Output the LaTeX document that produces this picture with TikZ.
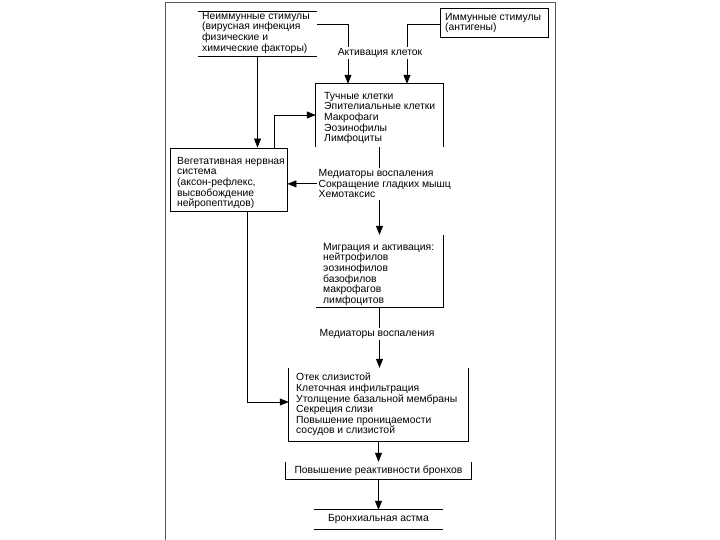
\documentclass[tikz,border=0pt]{standalone}
\usepackage{fontspec}
\setmainfont{Liberation Sans}
\usepackage{tikz}
\usetikzlibrary{arrows.meta}
\tikzset{
  bx/.style={rectangle, inner sep=0pt},                            % box area
  fb/.style={bx, draw=black, line width=0.8pt},                    % full box
  ln/.style={draw=black, line width=0.8pt},                        % plain line
  ar/.style={ln, -{Triangle[length=9bp,width=7bp]}},               % arrow
  fr/.style={draw=black!65, line width=0.8pt},                     % page frame
  tx/.style={font=\fontsize{10.4}{10.6}\selectfont, align=left, inner sep=0pt, anchor=north west},
  lb/.style={font=\fontsize{10.4}{10.6}\selectfont, align=left, fill=white, inner sep=1.5pt},
}
\begin{document}
\begin{tikzpicture}[x=1bp, y=-1bp]
  \useasboundingbox (0,0) rectangle (720,540);
  \draw[fr] (165,540) -- (165,2) -- (555,2) -- (555,540);
  % boxes
  \node[bx, minimum width=119bp, minimum height=44bp] (nonimm) at (257.5,34)    {};
  \node[fb, minimum width=108bp, minimum height=29bp] (imm)    at (494,22.5)    {};
  \node[bx, minimum width=127bp, minimum height=63bp] (cells)  at (379.5,115.5) {};
  \node[fb, minimum width=117bp, minimum height=63bp] (veg)    at (228.5,179.5) {};
  \node[bx, minimum width=127bp, minimum height=72bp] (migr)   at (379.5,271)   {};
  \node[bx, minimum width=179bp, minimum height=73bp] (effect) at (378.5,404.5) {};
  \node[bx, minimum width=185bp, minimum height=17bp] (react)  at (378.5,470.5) {};
  \node[bx, minimum width=129bp, minimum height=19bp] (asthma) at (378.5,519.5) {};
  \draw[ln] (nonimm.north west) -- (nonimm.north east);
  \draw[ln] (nonimm.south west) -- (nonimm.south east);
  \draw[ln] (cells.south west) -- (cells.north west) -- (cells.north east) -- (cells.south east);
  \draw[ln] (migr.north east) -- (migr.south east) -- (migr.south west);
  \draw[ln] (effect.north west) -- (effect.south west) -- (effect.south east) -- (effect.north east);
  \draw[ln] (react.north west) -- (react.south west) -- (react.south east) -- (react.north east);
  \draw[ln] (asthma.north west) -- (asthma.north east);
  \draw[ln] (asthma.south west) -- (asthma.south east);
  % box texts
  \node[tx] (nonimmT) at (202,12)  {Неиммунные стимулы\\(вирусная инфекция\\физические и\\химические факторы)};
  \node[tx] (immT)    at (445,13)  {Иммунные стимулы\\(антигены)};
  \node[tx] (cellsT)  at (324,92)  {Тучные клетки\\Эпителиальные клетки\\Макрофаги\\Эозинофилы\\Лимфоциты};
  \node[tx] (vegT)    at (177,157) {Вегетативная нервная\\система\\(аксон-рефлекс,\\высвобождение\\нейропептидов)};
  \node[tx] (migrT)   at (323,243) {Миграция и активация:\\нейтрофилов\\эозинофилов\\базофилов\\макрофагов\\лимфоцитов};
  \node[tx] (effectT) at (296,373) {Отек слизистой\\Клеточная инфильтрация\\Утолщение базальной мембраны\\Секреция слизи\\Повышение проницаемости\\сосудов и слизистой};
  \node[tx, anchor=center] (reactT)  at (react)  {Повышение реактивности бронхов};
  \node[tx, anchor=center] (asthmaT) at (asthma) {Бронхиальная астма};
  % connectors
  \coordinate (k1) at (348,24);
  \coordinate (k2) at (407,24);
  \coordinate (k3) at (274,115);
  \coordinate (k4) at (247,402);
  \draw[ar] (nonimm.east |- k1) -- (k1) -- (k1 |- cells.north);
  \draw[ar] (imm.west |- k2) -- (k2) -- (k2 |- cells.north);
  \draw[ar] (nonimm.south) -- (nonimm.south |- veg.north);
  \draw[ar] (veg.north -| k3) -- (k3) -- (k3 -| cells.west);
  \draw[ar] (cells.south) -- (cells.south |- migr.north);
  \draw[ar] (veg.south -| k4) -- (k4) -- (k4 -| effect.west);
  \draw[ar] (migr.south) -- (migr.south |- effect.north);
  \draw[ar] (effect.south) -- (react.north);
  \draw[ar] (react.south) -- (asthma.north);
  % labels over the lines
  \node[lb] (act)  at (380,53)  {Активация клеток};
  \node[lb, anchor=north west] (med1) at (317,168) {Медиаторы воспаления\\Сокращение гладких мышц\\Хемотаксис};
  \node[lb] (med2) at (377,334) {Медиаторы воспаления};
  \draw[ar] (med1.west) -- (med1.west -| veg.east);
\end{tikzpicture}
\end{document}
